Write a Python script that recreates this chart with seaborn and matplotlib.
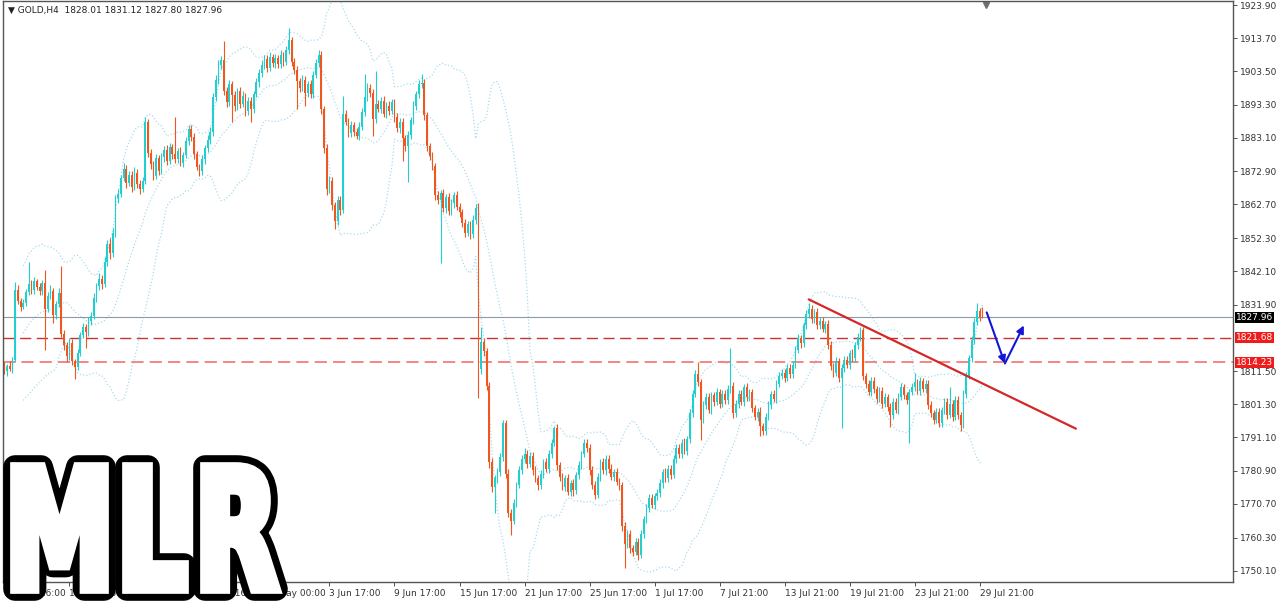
import matplotlib
matplotlib.use("Agg")
import matplotlib.pyplot as plt
import matplotlib.transforms as mtransforms
from matplotlib.textpath import TextPath
from matplotlib.patches import PathPatch
from matplotlib.font_manager import FontProperties
import seaborn as sns
import pandas as pd
import numpy as np

# GOLD H4 candles (open of each bar = previous close)
first_open = 1813.0
close_px = [
    1811.5, 1813.0, 1812.2, 1815.0,
    1836.5,
    1833.0, 1831.2, 1832.5, 1835.8,
    1838.2, 1836.4, 1839.0, 1837.2, 1836.0,
    1838.5, 1830.5,
    1834.5, 1836.2, 1828.6, 1832.0, 1835.5,
    1823.0,
    1819.5, 1816.0, 1820.2, 1814.5, 1812.8, 1817.0,
    1822.5, 1825.0, 1823.4, 1826.8, 1828.5,
    1834.0, 1837.5, 1839.8, 1838.2,
    1845.0, 1850.5, 1847.6, 1853.8,
    1864.5,
    1866.0, 1870.8, 1873.5, 1869.2, 1871.6,
    1868.0, 1872.4, 1869.0, 1867.5, 1870.0,
    1888.0,
    1878.6,
    1875.0, 1871.5, 1876.8, 1873.0,
    1877.2, 1879.5, 1876.0, 1880.2, 1878.0, 1876.5,
    1879.0, 1875.5, 1877.8,
    1882.0, 1885.8, 1883.5,
    1878.0, 1874.2, 1872.8,
    1876.5, 1880.0, 1882.5, 1885.0,
    1895.5, 1901.0, 1905.5, 1907.0,
    1897.5,
    1894.0, 1899.5, 1896.2, 1892.8, 1897.5,
    1893.5, 1896.0, 1891.2, 1894.5, 1892.0,
    1896.5, 1900.2, 1903.0, 1905.5,
    1907.2, 1904.5, 1908.0, 1906.0, 1907.5,
    1905.8, 1908.5, 1906.5, 1910.0,
    1913.0,
    1906.5, 1904.0, 1900.5,
    1898.5, 1901.0, 1897.0, 1899.5, 1896.5,
    1902.5, 1906.0, 1908.5,
    1892.0,
    1880.0, 1867.5,
    1870.0, 1862.5, 1857.5, 1864.0, 1861.0,
    1890.5,
    1888.0, 1884.5, 1887.0, 1885.0, 1883.8, 1886.5,
    1891.0, 1895.5, 1898.5, 1897.0,
    1889.0,
    1893.5,
    1892.0, 1894.5, 1890.5, 1893.0, 1891.5, 1894.0,
    1889.5, 1886.0, 1888.0, 1883.0, 1880.5,
    1884.0,
    1888.5, 1893.0, 1896.5, 1899.5,
    1900.0,
    1890.0, 1880.5,
    1877.5, 1874.5,
    1865.5,
    1864.0, 1866.2, 1861.5, 1864.8, 1860.5, 1863.0, 1865.5, 1862.0, 1860.2,
    1857.0, 1854.0, 1856.5, 1853.5, 1858.0, 1861.5,
    1812.0,
    1820.5, 1817.5,
    1807.0,
    1783.5,
    1776.0, 1778.5,
    1780.5, 1785.0, 1795.5,
    1780.0, 1768.0, 1765.5,
    1771.0, 1776.5, 1781.0, 1784.5,
    1786.0, 1783.0, 1785.5,
    1781.0, 1778.5, 1776.5,
    1780.0, 1783.5, 1781.5, 1786.0, 1789.5, 1794.0,
    1782.5,
    1779.0, 1776.0, 1778.5, 1774.5, 1777.0, 1775.0, 1779.5,
    1782.5, 1786.0, 1789.5, 1788.0,
    1781.0, 1776.5, 1773.5,
    1779.0, 1783.5, 1781.0, 1784.5,
    1781.5, 1779.0, 1780.5, 1777.5, 1776.5,
    1764.0,
    1758.5, 1761.5, 1757.0,
    1756.0, 1759.0, 1755.0,
    1761.5, 1766.0, 1769.5,
    1772.5, 1770.5, 1773.0, 1774.0,
    1777.0, 1780.5, 1778.5, 1781.5, 1779.5,
    1784.5, 1788.0, 1786.0, 1789.5, 1787.0, 1790.5,
    1798.5, 1804.5, 1810.5,
    1808.0,
    1796.5,
    1801.0, 1803.5, 1799.5, 1804.0,
    1802.0, 1805.0, 1801.5, 1804.5, 1802.5, 1806.0,
    1807.0,
    1798.5,
    1801.5, 1804.5, 1802.0, 1806.5, 1803.5, 1805.0,
    1800.0, 1797.5, 1799.0, 1794.5, 1793.0,
    1797.5, 1801.0, 1804.5, 1803.0, 1807.5, 1810.0,
    1811.0, 1809.5, 1812.5, 1810.5, 1813.5,
    1818.0, 1821.5, 1820.0, 1825.5, 1829.0,
    1830.5,
    1827.5, 1829.5, 1825.5, 1827.0, 1824.5, 1826.0,
    1819.5, 1813.0,
    1811.0, 1814.5, 1809.5, 1812.5, 1815.0,
    1813.5, 1817.0, 1815.5, 1819.5, 1822.0, 1824.0,
    1810.0,
    1807.5, 1805.0, 1808.5, 1806.0, 1803.0, 1805.5, 1801.5,
    1803.5, 1800.5, 1798.0, 1802.0, 1799.5,
    1803.5, 1806.5, 1804.0, 1802.5, 1805.0,
    1806.5, 1808.0, 1805.5, 1808.5, 1806.0, 1807.5,
    1801.0, 1798.5, 1796.5, 1799.0, 1795.5,
    1799.5, 1802.0, 1798.0, 1801.5, 1797.5, 1802.5,
    1798.0, 1795.0,
    1804.5, 1810.0, 1815.5, 1821.0,
    1826.5, 1830.0, 1828.01,
    1827.96,
]

# wick lengths above / below the body, in dollars
upper_wick = [
    1.2, 0.8, 1.5, 0.9,
    2.2,
    1.5, 0.9, 1.2, 1.0,
    6.8, 1.2, 1.5, 0.9, 1.3,
    1.0, 4.0,
    1.3, 1.8, 0.9, 1.1, 1.5,
    8.1,
    1.2, 0.9, 1.5, 1.0, 0.8, 1.3,
    1.0, 1.4, 0.9, 1.2, 1.0,
    1.5, 1.0, 1.8, 1.2,
    1.6, 1.2, 2.0, 1.5,
    1.2,
    1.5, 1.0, 1.8, 1.2, 1.4,
    1.2, 1.6, 1.0, 1.3, 1.1,
    1.5,
    1.0,
    1.2, 1.0, 1.4, 1.1,
    1.3, 1.0, 1.5, 1.2, 1.0, 11.5,
    1.1, 1.3, 1.0,
    1.5, 1.2, 1.4,
    1.0, 1.2, 0.9,
    1.2, 1.0, 1.4, 1.5,
    1.5, 1.3, 1.6, 1.2,
    5.8,
    1.3, 1.5, 1.1, 1.4, 1.0,
    1.2, 1.4, 1.0, 1.3, 1.1,
    1.0, 1.3, 1.2, 1.5,
    1.4, 1.2, 1.6, 1.0, 1.3,
    1.2, 1.5, 1.0, 1.4,
    3.8,
    1.2, 1.0, 1.3,
    1.1, 1.4, 1.2, 1.0, 1.3,
    1.0, 1.3, 1.5,
    1.2,
    1.0, 1.3,
    1.5, 1.2, 1.0, 1.4, 1.1,
    5.5,
    1.3, 1.1, 1.4, 1.0, 1.2, 1.5,
    1.2, 7.2, 1.5, 1.1,
    1.0,
    10.1,
    1.2, 1.0, 1.4, 1.1, 1.3, 1.0,
    1.0, 1.3, 1.1, 1.2, 1.0,
    1.2,
    1.1, 1.3, 1.0, 1.4,
    2.7,
    1.2, 1.0,
    1.1, 1.3,
    1.0,
    1.2, 1.0, 1.3, 1.1, 1.4, 1.2, 1.0, 1.3, 1.1,
    1.0, 1.3, 1.2, 1.1, 1.4, 1.2,
    1.5,
    4.5, 1.2,
    1.0,
    1.2,
    1.3, 1.1,
    1.2, 1.4, 1.0,
    1.1, 1.3, 1.0,
    1.2, 1.0, 1.3, 1.1,
    2.0, 1.1, 1.2,
    1.0, 1.2, 1.1,
    1.2, 1.0, 1.3, 1.1, 1.2, 0.6,
    1.1,
    1.0, 1.2, 1.1, 1.3, 1.0, 1.2, 1.1,
    1.3, 1.0, 1.2, 1.1,
    1.0, 1.2, 1.1,
    1.2, 1.0, 1.3, 1.1,
    1.1, 1.3, 1.0, 1.2, 1.1,
    1.0,
    1.2, 1.1, 1.3,
    1.0, 1.2, 1.1,
    1.3, 1.1, 1.2,
    1.1, 1.3, 1.0, 1.2,
    1.2, 1.0, 1.3, 1.1, 1.2,
    1.3, 1.1, 1.2, 1.0, 1.3, 1.1,
    1.2, 1.1, 1.3,
    3.9,
    1.0,
    1.2, 1.1, 1.3, 1.0,
    1.1, 1.3, 1.0, 1.2, 1.1, 1.3,
    11.7,
    1.0,
    1.2, 1.1, 1.3, 1.0, 1.2, 1.1,
    1.0, 1.2, 1.1, 1.3, 1.0,
    1.1, 1.3, 1.0, 1.2, 1.1, 1.3,
    1.2, 1.0, 1.3, 1.1, 1.2,
    1.1, 1.3, 1.0, 1.2, 1.3,
    2.0,
    1.2, 1.0, 1.3, 1.1, 1.2, 1.0,
    1.1, 1.2,
    1.0, 1.2, 1.1, 1.3, 1.0,
    1.2, 1.1, 1.3, 1.0, 1.2, 1.0,
    1.1,
    1.0, 1.2, 1.1, 1.3, 1.0, 1.2, 1.1,
    1.2, 1.0, 1.3, 1.1, 1.2,
    1.1, 1.3, 1.0, 1.2, 1.1,
    1.2, 3.0, 1.1, 1.3, 1.0, 1.2,
    1.1, 1.3, 1.0, 1.2, 1.1,
    1.0, 1.2, 1.1, 5.2, 1.0, 1.3,
    1.2, 1.0,
    1.1, 1.3, 1.0, 1.2,
    1.2, 2.5, 1.0,
    3.11,
]

lower_wick = [
    1.0, 1.4, 0.7, 1.2,
    0.8,
    1.0, 1.3, 0.8, 1.1,
    0.9, 1.1, 1.4, 0.8, 1.2,
    1.2, 12.5,
    1.0, 0.8, 2.5, 1.2, 0.9,
    1.0,
    1.5, 1.8, 1.0, 1.2, 3.8, 1.0,
    0.8, 1.0, 4.9, 1.1, 1.3,
    0.9, 1.2, 1.0, 1.4,
    1.0, 1.3, 1.8, 1.1,
    1.0,
    1.3, 1.1, 0.9, 1.6, 1.0,
    1.4, 0.9, 1.2, 1.5, 1.0,
    1.0,
    1.5,
    1.6, 1.3, 1.0, 1.4,
    1.0, 1.4, 1.2, 0.9, 1.3, 1.1,
    1.2, 1.0, 1.4,
    1.0, 1.1, 1.3,
    1.3, 1.0, 1.5,
    1.0, 1.3, 1.1, 1.2,
    1.2, 1.0, 1.4, 1.1,
    1.2,
    1.5, 1.2, 8.2, 1.3, 1.1,
    1.3, 1.0, 1.5, 1.2, 4.0,
    1.2, 1.0, 1.4, 1.1,
    1.1, 1.3, 1.0, 1.2, 1.4,
    1.3, 1.1, 1.2, 1.0,
    1.0,
    1.4, 1.2, 8.6,
    1.2, 1.0, 4.0, 1.3, 1.1,
    1.2, 1.1, 1.0,
    1.5,
    1.4, 1.8,
    1.2, 1.5, 2.5, 1.3, 1.6,
    1.0,
    1.0, 1.2, 1.1, 1.4, 1.0, 1.3,
    1.0, 1.2, 1.1, 1.3,
    5.4,
    1.2,
    1.1, 1.3, 1.0, 1.2, 1.4, 1.1,
    1.4, 1.2, 1.5, 7.0, 1.3,
    11.0,
    1.2, 1.0, 1.3, 1.1,
    1.0,
    1.3, 1.5,
    1.2, 1.4,
    1.6,
    1.3, 19.2, 1.1, 1.4, 1.2, 1.0, 1.3, 1.1, 1.5,
    1.4, 1.2, 1.0, 1.5, 1.1, 1.3,
    8.7,
    1.5, 1.3,
    1.4,
    1.8,
    1.5, 8.0,
    1.3, 1.1, 1.2,
    1.4, 1.2, 4.3,
    1.1, 1.3, 1.0, 1.2,
    1.2, 1.4, 1.0,
    1.3, 1.1, 1.4,
    1.1, 1.3, 1.0, 1.2, 1.1, 1.0,
    1.3,
    1.2, 1.0, 1.3, 1.1, 1.4, 2.0, 1.2,
    1.1, 1.2, 1.0, 1.3,
    1.3, 1.1, 1.4,
    1.0, 1.2, 1.1, 1.3,
    1.2, 1.0, 1.3, 1.1, 1.4,
    1.5,
    7.5, 1.2, 1.4,
    1.3, 1.1, 1.5,
    1.0, 1.2, 1.1,
    1.2, 1.0, 1.3, 1.1,
    1.1, 1.3, 1.0, 1.2, 1.1,
    1.0, 1.2, 1.1, 1.3, 1.0, 1.2,
    1.0, 1.2, 1.1,
    1.2,
    6.1,
    1.1, 1.3, 1.0, 1.2,
    1.2, 1.0, 1.3, 1.1, 1.2, 1.0,
    1.1,
    1.3,
    1.1, 1.3, 1.0, 1.2, 1.1, 1.3,
    1.2, 1.1, 1.3, 3.0, 1.2,
    1.3, 1.0, 1.2, 1.1, 1.3, 1.0,
    1.1, 1.3, 1.0, 1.2, 1.1,
    1.2, 1.0, 1.3, 1.1, 1.2,
    1.1,
    1.1, 1.3, 1.0, 1.2, 1.1, 1.3,
    1.3, 1.1,
    1.2, 1.0, 1.3, 15.5, 1.2,
    1.1, 1.3, 1.0, 1.2, 1.1, 1.3,
    1.3,
    1.2, 1.0, 1.3, 1.1, 1.2, 1.0, 1.3,
    1.1, 1.3, 3.6, 1.2, 1.0,
    1.3, 1.0, 1.2, 1.1, 13.0,
    1.0, 1.2, 1.1, 1.3, 1.0, 1.2,
    1.2, 1.0, 1.3, 1.1, 1.2,
    1.3, 1.1, 1.2, 1.0, 1.3, 1.1,
    1.1, 2.0,
    1.0, 1.2, 1.1, 1.3,
    1.1, 1.0, 1.2,
    0.16,
]

price_ticks = [1923.90, 1913.70, 1903.50, 1893.30, 1883.10, 1872.90, 1862.70,
               1852.30, 1842.10, 1831.90, 1811.50, 1801.30, 1791.10, 1780.90,
               1770.70, 1760.30, 1750.10]
time_tick_bars = [0, 24, 48, 72, 96, 120, 144, 168, 192, 216, 240, 264, 288, 312, 336, 360]
time_tick_labels = ["10 May 16:00", "14 May 16:00", "20 May 16:00", "26 May 16:00",
                    "31 May 00:00", "3 Jun 17:00", "9 Jun 17:00", "15 Jun 17:00",
                    "21 Jun 17:00", "25 Jun 17:00", "1 Jul 17:00", "7 Jul 21:00",
                    "13 Jul 21:00", "19 Jul 21:00", "23 Jul 21:00", "29 Jul 21:00"]

last_price = 1827.96
level_1 = 1821.68
level_2 = 1814.23

# hand-drawn objects on the chart (bar index, price)
trend_bars = [296.9, 395.5]
trend_prices = [1833.5, 1793.8]
arrow_bars = [362.6, 369.3, 376.3]
arrow_prices = [1829.5, 1813.8, 1825.5]

# watermark letters and their boxes in pixels (x0, x1) from the left
logo_letters = ["M", "L", "R"]
logo_boxes = [(15, 104), (127, 184), (205, 276)]

# ---------------------------------------------------------------
sns.set_style("white")
plt.rcParams["font.family"] = ["DejaVu Sans"]

n = len(close_px)
assert len(upper_wick) == n and len(lower_wick) == n, (n, len(upper_wick), len(lower_wick))

df = pd.DataFrame({"close": close_px})
df["open"] = [first_open] + close_px[:-1]
df["top"] = df[["open", "close"]].max(axis=1)
df["bot"] = df[["open", "close"]].min(axis=1)
df["high"] = df["top"] + upper_wick
df["low"] = df["bot"] - lower_wick
df["bar"] = np.arange(n)

# Bollinger bands (20, 2)
roll = df["close"].rolling(20, min_periods=8)
df["mid"] = roll.mean()
df["upper"] = df["mid"] + 2 * roll.std(ddof=0)
df["lower"] = df["mid"] - 2 * roll.std(ddof=0)

W, H = 1280, 602
fig = plt.figure(figsize=(W / 100, H / 100), dpi=100)
fig.patch.set_facecolor("white")
ax = fig.add_axes([3 / W, 20 / H, 1230 / W, 581 / H])
ax.set_facecolor("white")

bull_col = "#22cfcf"
bear_col = "#f0561e"
cols = np.where(df["close"] >= df["open"], bull_col, bear_col)

band_col = "#a8dcee"
for name in ["upper", "mid", "lower"]:
    sns.lineplot(x=df["bar"], y=df[name], ax=ax, color=band_col,
                 linestyle=":", linewidth=0.9, zorder=1)

ax.vlines(df["bar"], df["low"], df["high"], colors=cols, linewidth=0.8, zorder=2)
body = np.maximum(df["top"] - df["bot"], 0.25)
ax.bar(df["bar"], body, bottom=df["bot"], width=0.62, color=cols,
       linewidth=0, zorder=3)

# levels
ax.axhline(last_price, color="#8c9aa6", linewidth=0.8, zorder=1)
ax.axhline(level_1, color="#c83232", linewidth=1.0, linestyle=(0, (8, 4)), zorder=1)
ax.axhline(level_2, color="#f26666", linewidth=1.1, linestyle=(0, (8, 4)), zorder=1)

ytrans = ax.get_yaxis_transform()
for val, fc in [(last_price, "black"), (level_1, "#f01c1c"), (level_2, "#f01c1c")]:
    ax.text(1.0025, val, f"{val:.2f}", transform=ytrans, fontsize=6.5,
            color="white", va="center", ha="left", zorder=6,
            bbox=dict(boxstyle="square,pad=0.12", fc=fc, ec="none"))

# trend line and projected path
ax.plot(trend_bars, trend_prices, color="#d42828", linewidth=1.6, zorder=4)
for i in range(len(arrow_bars) - 1):
    ax.annotate("", xy=(arrow_bars[i + 1], arrow_prices[i + 1]),
                xytext=(arrow_bars[i], arrow_prices[i]),
                arrowprops=dict(arrowstyle="-|>", color="#1515d8", lw=1.5,
                                mutation_scale=11, shrinkA=0, shrinkB=0),
                zorder=5)

# shift marker at top
ax.plot([362.5], [0.993], marker="v", color="#707070", markersize=4,
        transform=ax.get_xaxis_transform(), clip_on=False)

ax.set_xlim(-0.5, 453.5)
ax.set_ylim(1746.71, 1925.13)
ax.yaxis.tick_right()
ax.set_yticks(price_ticks)
ax.set_yticklabels([f"{v:.2f}" for v in price_ticks])
ax.set_xticks(time_tick_bars)
ax.set_xticklabels(time_tick_labels)
for lbl in ax.get_xticklabels():
    lbl.set_ha("left")
ax.tick_params(axis="y", labelsize=6.5, length=3, width=0.6, pad=2,
               colors="#333333", right=True)
ax.tick_params(axis="x", labelsize=6.5, length=3, width=0.6, pad=2,
               colors="#333333", bottom=True)
ax.set_xlabel("")
ax.set_ylabel("")
for sp in ax.spines.values():
    sp.set_color("#555555")
    sp.set_linewidth(1.0)

fig.text(8 / W, 1 - 10 / H, "\u25bc GOLD,H4  1828.01 1831.12 1827.80 1827.96",
         fontsize=6.5, va="center", ha="left", color="#222222")

# MLR watermark: black outline layer, then fattened white glyph on top
fp = FontProperties(family="DejaVu Sans", weight="bold")
y0, y1 = 13, 135
for letter, (x0, x1) in zip(logo_letters, logo_boxes):
    tp = TextPath((0, 0), letter, prop=fp, size=100)
    bb = tp.get_extents()
    tr = (mtransforms.Affine2D()
          .translate(-bb.x0, -bb.y0)
          .scale((x1 - x0) / bb.width, (y1 - y0) / bb.height)
          .translate(x0, y0))
    path = tr.transform_path(tp)
    fig.add_artist(PathPatch(path, transform=mtransforms.IdentityTransform(),
                             facecolor="black", edgecolor="black", linewidth=17,
                             joinstyle="round", zorder=10))
for letter, (x0, x1) in zip(logo_letters, logo_boxes):
    tp = TextPath((0, 0), letter, prop=fp, size=100)
    bb = tp.get_extents()
    tr = (mtransforms.Affine2D()
          .translate(-bb.x0, -bb.y0)
          .scale((x1 - x0) / bb.width, (y1 - y0) / bb.height)
          .translate(x0, y0))
    path = tr.transform_path(tp)
    fig.add_artist(PathPatch(path, transform=mtransforms.IdentityTransform(),
                             facecolor="white", edgecolor="white", linewidth=7,
                             joinstyle="miter", zorder=11))

fig.savefig("out.png", dpi=100, facecolor="white")
